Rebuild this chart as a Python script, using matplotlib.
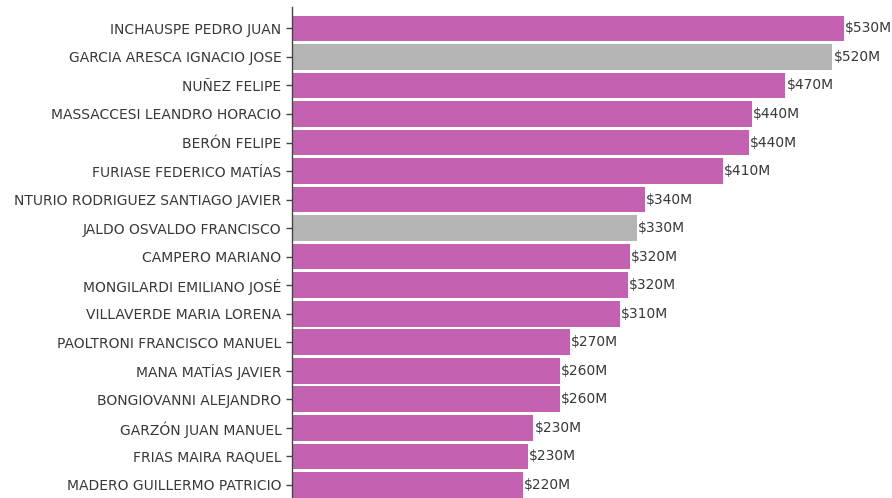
import matplotlib.pyplot as plt

names = [
    "INCHAUSPE PEDRO JUAN",
    "GARCIA ARESCA IGNACIO JOSE",
    "NUÑEZ FELIPE",
    "MASSACCESI LEANDRO HORACIO",
    "BERÓN FELIPE",
    "FURIASE FEDERICO MATÍAS",
    "NTURIO RODRIGUEZ SANTIAGO JAVIER",
    "JALDO OSVALDO FRANCISCO",
    "CAMPERO MARIANO",
    "MONGILARDI EMILIANO JOSÉ",
    "VILLAVERDE MARIA LORENA",
    "PAOLTRONI FRANCISCO MANUEL",
    "MANA MATÍAS JAVIER",
    "BONGIOVANNI ALEJANDRO",
    "GARZÓN JUAN MANUEL",
    "FRIAS MAIRA RAQUEL",
    "MADERO GUILLERMO PATRICIO",
]
values = [528, 517, 472, 440, 437, 412, 338, 330, 323, 321, 314, 266, 256, 256, 231, 226, 221]
labels = ["$530M", "$520M", "$470M", "$440M", "$440M", "$410M", "$340M", "$330M",
          "$320M", "$320M", "$310M", "$270M", "$260M", "$260M", "$230M", "$230M", "$220M"]
gray_rows = [1, 7]

pink = "#c462b1"
gray = "#b4b4b4"
colors = [gray if i in gray_rows else pink for i in range(len(names))]

fig = plt.figure(figsize=(8.92, 4.98), dpi=100)
ax = fig.add_axes([292 / 892, 0, 1 - 292 / 892, 491 / 498])

y = list(range(len(names)))
ax.barh(y, values, height=0.9, color=colors)

for yi, v, lab in zip(y, values, labels):
    ax.text(v + 1.0, yi, lab, va="center", ha="left", fontsize=10, color="#383838")

ax.set_ylim(16.46, -0.75)
ax.set_xlim(0, 574)
ax.set_yticks(y)
ax.set_yticklabels(names, fontsize=10, color="#383838")
ax.tick_params(axis="y", length=4.5, width=1, color="#444444", pad=3)
ax.set_xticks([])

for s in ["top", "right", "bottom"]:
    ax.spines[s].set_visible(False)
ax.spines["left"].set_color("#444444")
ax.spines["left"].set_linewidth(1)

fig.savefig("out.png", dpi=100)
